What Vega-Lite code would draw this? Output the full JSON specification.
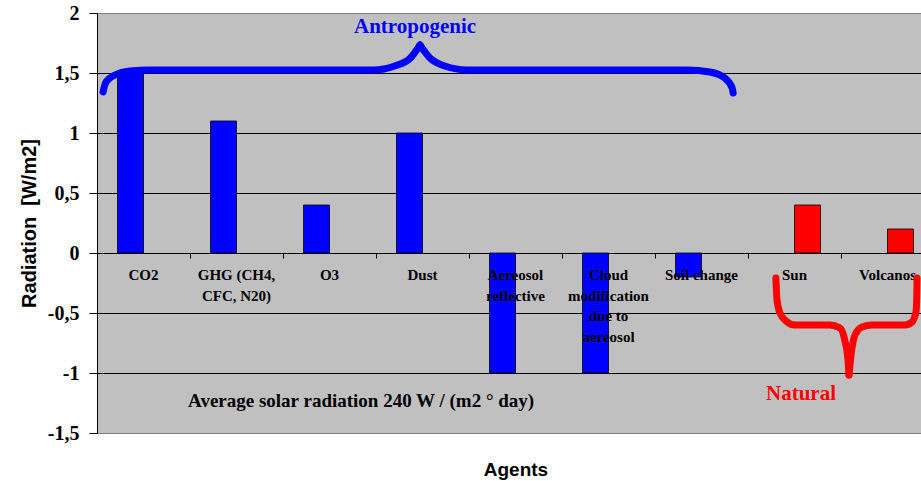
{
  "$schema": "https://vega.github.io/schema/vega-lite/v6.json",
  "width": 824,
  "height": 420,
  "autosize": {"type": "none"},
  "padding": {"left": 97, "top": 13, "right": 0, "bottom": 48},
  "background": "white",
  "config": {"view": {"fill": "#C0C0C0", "stroke": "#808080", "strokeWidth": 1}},
  "datasets": {
    "agents": [
      {"agent": "CO2", "value": 1.5, "group": "Antropogenic"},
      {"agent": "GHG (CH4,\nCFC, N20)", "value": 1.1, "group": "Antropogenic"},
      {"agent": "O3", "value": 0.4, "group": "Antropogenic"},
      {"agent": "Dust", "value": 1.0, "group": "Antropogenic"},
      {"agent": "Aereosol\nreflective", "value": -1.0, "group": "Antropogenic"},
      {"agent": "Cloud\nmodification\ndue to\naereosol", "value": -1.0, "group": "Antropogenic"},
      {"agent": "Soil change", "value": -0.2, "group": "Antropogenic"},
      {"agent": "Sun", "value": 0.4, "group": "Natural"},
      {"agent": "Volcanos", "value": 0.2, "group": "Natural"}
    ],
    "braces": [
      {"brace": "Antropogenic", "part": "a1", "x": 0.065, "y": 1.342},
      {"brace": "Antropogenic", "part": "a1", "x": 0.097, "y": 1.425},
      {"brace": "Antropogenic", "part": "a1", "x": 0.194, "y": 1.483},
      {"brace": "Antropogenic", "part": "a1", "x": 0.355, "y": 1.517},
      {"brace": "Antropogenic", "part": "a1", "x": 0.57, "y": 1.525},
      {"brace": "Antropogenic", "part": "a1", "x": 2.97, "y": 1.525},
      {"brace": "Antropogenic", "part": "a1", "x": 3.2, "y": 1.558},
      {"brace": "Antropogenic", "part": "a1", "x": 3.37, "y": 1.625},
      {"brace": "Antropogenic", "part": "a1", "x": 3.473, "y": 1.733},
      {"brace": "Antropogenic", "part": "a2", "x": 3.473, "y": 1.733},
      {"brace": "Antropogenic", "part": "a2", "x": 3.58, "y": 1.625},
      {"brace": "Antropogenic", "part": "a2", "x": 3.74, "y": 1.558},
      {"brace": "Antropogenic", "part": "a2", "x": 3.98, "y": 1.525},
      {"brace": "Antropogenic", "part": "a2", "x": 6.344, "y": 1.525},
      {"brace": "Antropogenic", "part": "a2", "x": 6.59, "y": 1.508},
      {"brace": "Antropogenic", "part": "a2", "x": 6.75, "y": 1.458},
      {"brace": "Antropogenic", "part": "a2", "x": 6.83, "y": 1.375},
      {"brace": "Antropogenic", "part": "a2", "x": 6.84, "y": 1.333},
      {"brace": "Natural", "part": "n1", "x": 7.3, "y": -0.208},
      {"brace": "Natural", "part": "n1", "x": 7.312, "y": -0.392},
      {"brace": "Natural", "part": "n1", "x": 7.344, "y": -0.5},
      {"brace": "Natural", "part": "n1", "x": 7.41, "y": -0.567},
      {"brace": "Natural", "part": "n1", "x": 7.505, "y": -0.6},
      {"brace": "Natural", "part": "n1", "x": 7.88, "y": -0.6},
      {"brace": "Natural", "part": "n1", "x": 7.99, "y": -0.625},
      {"brace": "Natural", "part": "n1", "x": 8.04, "y": -0.725},
      {"brace": "Natural", "part": "n1", "x": 8.075, "y": -0.892},
      {"brace": "Natural", "part": "n1", "x": 8.086, "y": -1.017},
      {"brace": "Natural", "part": "n2", "x": 8.086, "y": -1.017},
      {"brace": "Natural", "part": "n2", "x": 8.108, "y": -0.85},
      {"brace": "Natural", "part": "n2", "x": 8.151, "y": -0.683},
      {"brace": "Natural", "part": "n2", "x": 8.226, "y": -0.617},
      {"brace": "Natural", "part": "n2", "x": 8.333, "y": -0.6},
      {"brace": "Natural", "part": "n2", "x": 8.688, "y": -0.6},
      {"brace": "Natural", "part": "n2", "x": 8.763, "y": -0.575},
      {"brace": "Natural", "part": "n2", "x": 8.806, "y": -0.492},
      {"brace": "Natural", "part": "n2", "x": 8.815, "y": -0.35},
      {"brace": "Natural", "part": "n2", "x": 8.818, "y": -0.208}
    ],
    "notes": [
      {"note": "Antropogenic", "x": 3.42, "y": 1.883},
      {"note": "Natural", "x": 7.57, "y": -1.175},
      {"note": "Average solar radiation 240 W / (m2 ° day)", "x": 2.84, "y": -1.233}
    ]
  },
  "layer": [
    {
      "layer": [
        {
          "data": {"name": "agents"},
          "mark": {"type": "bar", "stroke": "#000000", "strokeWidth": 0.8},
          "encoding": {
            "x": {
              "field": "agent", "type": "nominal", "sort": null,
              "scale": {"range": [0, 837], "paddingInner": 0, "paddingOuter": 0},
              "axis": {
                "orient": "bottom", "offset": -180, "labels": false, "domain": false,
                "bandPosition": 0, "tickSize": 5, "tickColor": "#000000", "grid": false,
                "title": "Agents", "titleFont": "Liberation Sans", "titleFontSize": 19,
                "titleFontWeight": "bold", "titleColor": "#000000", "titlePadding": 202
              }
            },
            "xOffset": {
              "field": "group", "type": "nominal",
              "scale": {"domain": ["Antropogenic", "Natural"], "paddingInner": 0, "paddingOuter": 0.79}
            },
            "y": {
              "field": "value", "type": "quantitative",
              "scale": {"domain": [-1.5, 2], "nice": false, "zero": false},
              "axis": {
                "values": [-1.5, -1, -0.5, 0, 0.5, 1, 1.5, 2],
                "labelExpr": "replace(toString(datum.value), '.', ',')",
                "labelFont": "Liberation Serif", "labelFontSize": 20, "labelFontWeight": "bold",
                "labelColor": "#000000", "labelPadding": 10,
                "tickSize": 8, "tickColor": "#000000", "domainColor": "#000000",
                "grid": true,
                "gridColor": {"condition": {"test": "datum.value >= 2 || datum.value <= -1.5", "value": "#808080"}, "value": "#000000"},
                "title": "Radiation\u00a0 [W/m2]", "titleFont": "Liberation Sans", "titleFontSize": 20,
                "titleFontWeight": "bold", "titleColor": "#000000", "titlePadding": 8
              }
            },
            "color": {
              "field": "group", "type": "nominal",
              "scale": {"domain": ["Antropogenic", "Natural"], "range": ["#0000FF", "#FF0000"]},
              "legend": null
            }
          }
        },
        {
          "data": {"name": "agents"},
          "mark": {"type": "text", "font": "Liberation Serif", "fontSize": 15, "fontWeight": "bold",
                   "baseline": "top", "dy": 15, "lineBreak": "\n", "lineHeight": 20.5, "color": "#000000"},
          "encoding": {
            "x": {"field": "agent", "type": "nominal", "sort": null},
            "y": {"datum": 0, "type": "quantitative"},
            "text": {"field": "agent"}
          }
        }
      ]
    },
    {
      "layer": [
        {
          "data": {"name": "braces"},
          "mark": {"type": "line", "interpolate": "monotone", "strokeWidth": 7, "strokeCap": "round"},
          "encoding": {
            "x": {"field": "x", "type": "quantitative", "scale": {"domain": [0, 9], "range": [0, 837], "nice": false, "zero": false}, "axis": null},
            "y": {"field": "y", "type": "quantitative"},
            "detail": {"field": "part"},
            "color": {"field": "brace", "type": "nominal", "legend": null}
          }
        },
        {
          "data": {"name": "notes"},
          "transform": [{"filter": "datum.note == 'Antropogenic'"}],
          "mark": {"type": "text", "font": "Liberation Serif", "fontSize": 21, "fontWeight": "bold", "color": "#0000FF", "baseline": "middle"},
          "encoding": {
            "x": {"field": "x", "type": "quantitative"},
            "y": {"field": "y", "type": "quantitative"},
            "text": {"field": "note"}
          }
        },
        {
          "data": {"name": "notes"},
          "transform": [{"filter": "datum.note == 'Natural'"}],
          "mark": {"type": "text", "font": "Liberation Serif", "fontSize": 21, "fontWeight": "bold", "color": "#FF0000", "baseline": "middle"},
          "encoding": {
            "x": {"field": "x", "type": "quantitative"},
            "y": {"field": "y", "type": "quantitative"},
            "text": {"field": "note"}
          }
        },
        {
          "data": {"name": "notes"},
          "transform": [{"filter": "indexof(datum.note, 'Average') == 0"}],
          "mark": {"type": "text", "font": "Liberation Serif", "fontSize": 19, "fontWeight": "bold", "color": "#000000", "baseline": "middle"},
          "encoding": {
            "x": {"field": "x", "type": "quantitative"},
            "y": {"field": "y", "type": "quantitative"},
            "text": {"field": "note"}
          }
        }
      ]
    }
  ],
  "resolve": {"scale": {"x": "independent"}, "axis": {"x": "independent"}}
}
